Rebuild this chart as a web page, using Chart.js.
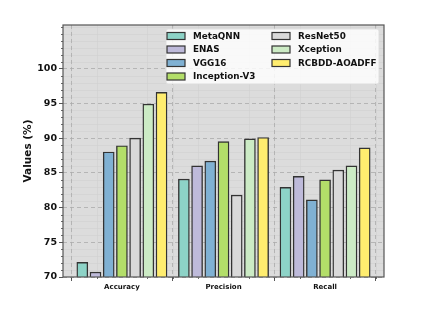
<!DOCTYPE html>
<html><head><meta charset="utf-8">
<script src="https://cdn.jsdelivr.net/npm/chart.js@4/dist/chart.umd.min.js"></script>
<style>html,body{margin:0;padding:0;background:#fff;}canvas{display:block;}</style>
</head><body>
<canvas id="c" width="445" height="314"></canvas>
<script>
const categories = ['Accuracy', 'Precision', 'Recall'];
const models = ['MetaQNN', 'ENAS', 'VGG16', 'Inception-V3', 'ResNet50', 'Xception', 'RCBDD-AOADFF'];
const metaQNN    = [72.1, 84.1, 82.9];
const enas       = [70.7, 86.0, 84.5];
const vgg16      = [88.0, 86.7, 81.1];
const inceptionV3= [88.9, 89.5, 84.0];
const resNet50   = [90.0, 81.8, 85.4];
const xception   = [94.9, 89.9, 86.0];
const rcbdd      = [96.6, 90.1, 88.6];
const yTicks = [70, 75, 80, 85, 90, 95, 100];
const seriesValues = [metaQNN, enas, vgg16, inceptionV3, resNet50, xception, rcbdd];
const colors = ['#8dd3c7', '#bebada', '#80b1d3', '#b3de69', '#d9d9d9', '#ccebc5', '#ffed6f'];

const FONT = 'DejaVu Sans';
const datasets = models.map((m, k) => ({
  label: m,
  data: categories.map((c, i) => ({ x: i + (k - 3) * 0.13, y: seriesValues[k][i] })),
  backgroundColor: colors[k],
  borderColor: '#333333',
  borderWidth: 1.4,
  barThickness: 11,
  grouped: false
}));

const decor = {
  id: 'decor',
  beforeDraw(chart) {
    const { ctx, chartArea: a, scales: { x, y } } = chart;
    ctx.save();
    ctx.fillStyle = '#dcdcdc';
    ctx.fillRect(a.left, a.top, a.right - a.left, a.bottom - a.top);
    // minor grid
    ctx.strokeStyle = '#cfcfcf';
    ctx.lineWidth = 0.5;
    for (let v = 70; v <= 106; v += 1) {
      if (v % 5 === 0 && v <= 100) continue;
      const py = Math.round(y.getPixelForValue(v)) + 0.5;
      ctx.beginPath(); ctx.moveTo(a.left, py); ctx.lineTo(a.right, py); ctx.stroke();
    }
    for (let v = -0.5; v <= 2.5; v += 0.25) {
      if (Math.abs(v - Math.round(v)) < 1e-6) continue;
      const px = Math.round(x.getPixelForValue(v)) + 0.5;
      ctx.beginPath(); ctx.moveTo(px, a.top); ctx.lineTo(px, a.bottom); ctx.stroke();
    }
    // minor ticks
    ctx.strokeStyle = '#444';
    ctx.lineWidth = 0.8;
    for (let v = 70; v <= 106; v += 1) {
      if (v % 5 === 0 && v <= 100) continue;
      const py = Math.round(y.getPixelForValue(v)) + 0.5;
      ctx.beginPath(); ctx.moveTo(a.left - 2, py); ctx.lineTo(a.left, py); ctx.stroke();
    }
    for (let v = -0.5; v <= 2.5; v += 0.25) {
      if (Math.abs(v - Math.round(v)) < 1e-6) continue;
      const px = Math.round(x.getPixelForValue(v)) + 0.5;
      ctx.beginPath(); ctx.moveTo(px, a.bottom); ctx.lineTo(px, a.bottom + 2); ctx.stroke();
    }
    ctx.restore();
  },
  afterDraw(chart) {
    const { ctx, chartArea: a } = chart;
    ctx.save();
    // frame
    ctx.strokeStyle = '#555';
    ctx.lineWidth = 1.2;
    ctx.strokeRect(a.left, a.top, a.right - a.left, a.bottom - a.top);
    // legend
    const bx = 166, by = 29, bw = 213, bh = 55;
    ctx.fillStyle = 'rgba(255,255,255,0.82)';
    ctx.strokeStyle = 'rgba(220,220,220,0.9)';
    ctx.lineWidth = 1;
    ctx.beginPath();
    if (ctx.roundRect) ctx.roundRect(bx, by, bw, bh, 2); else ctx.rect(bx, by, bw, bh);
    ctx.fill(); ctx.stroke();
    ctx.font = 'bold 8.8px "' + FONT + '"';
    ctx.textBaseline = 'middle';
    ctx.textAlign = 'left';
    const cols = [{ sx: 167, tx: 193 }, { sx: 272, tx: 298 }];
    const rows = [36, 49.5, 63, 76.5];
    models.forEach((m, k) => {
      const col = k < 4 ? 0 : 1;
      const row = k < 4 ? k : k - 4;
      const c = cols[col], ry = rows[row];
      ctx.fillStyle = colors[k];
      ctx.fillRect(c.sx, ry - 3.5, 18, 7);
      ctx.strokeStyle = '#333';
      ctx.lineWidth = 1.2;
      ctx.strokeRect(c.sx, ry - 3.5, 18, 7);
      ctx.fillStyle = '#111';
      ctx.fillText(m, c.tx, ry + 0.5);
    });
    ctx.restore();
  }
};

new Chart(document.getElementById('c'), {
  type: 'bar',
  data: { datasets },
  plugins: [decor],
  options: {
    responsive: false,
    animation: false,
    layout: { padding: { left: 0, right: 61, top: 25, bottom: 0 } },
    plugins: { legend: { display: false }, tooltip: { enabled: false } },
    scales: {
      x: {
        type: 'linear',
        min: -0.58, max: 2.58,
        offset: false,
        afterBuildTicks(s) { s.ticks = categories.map((c, i) => ({ value: i })); },
        afterFit(s) { s.height = 37; },
        ticks: {
          callback: (v) => categories[Math.round(v)] || '',
          font: { family: FONT, size: 7, weight: 'bold' },
          color: '#111',
          padding: 2,
          maxRotation: 0, autoSkip: false
        },
        grid: { color: '#ababab', lineWidth: 0.8, tickLength: 4, tickColor: '#444', tickWidth: 0.9, drawOnChartArea: true },
        border: { display: false, dash: [4, 3] }
      },
      y: {
        min: 70, max: 106.3,
        afterBuildTicks(s) { s.ticks = yTicks.map(v => ({ value: v })); },
        afterFit(s) { s.width = 63; },
        ticks: {
          font: { family: FONT, size: 9.5, weight: 'bold' },
          color: '#111',
          padding: 2
        },
        title: {
          display: true, text: 'Values (%)',
          font: { family: FONT, size: 10.5, weight: 'bold' },
          color: '#111',
          padding: { top: 22, bottom: 0 }
        },
        grid: { color: '#ababab', lineWidth: 0.8, tickLength: 4, tickColor: '#444', tickWidth: 0.9 },
        border: { display: false, dash: [4, 3] }
      }
    }
  }
});
</script>
</body></html>
